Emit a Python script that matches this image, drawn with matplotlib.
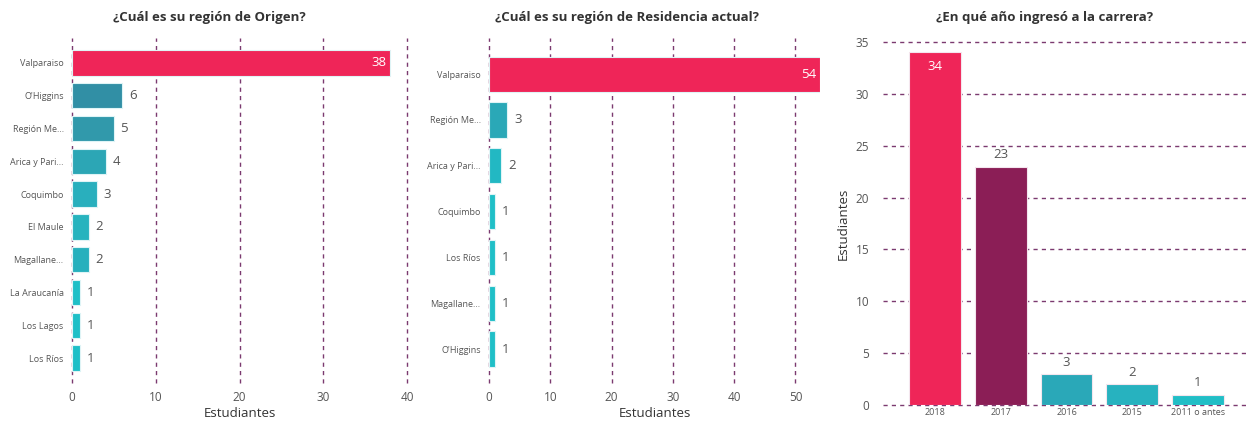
import matplotlib
matplotlib.use("Agg")
import matplotlib.pyplot as plt

plt.rcParams['font.family'] = ['Open Sans', 'DejaVu Sans']

# --- data ---
origen_labels = ["Valparaiso", "O'Higgins", "Región Me...", "Arica y Pari...", "Coquimbo",
                 "El Maule", "Magallane...", "La Araucanía", "Los Lagos", "Los Ríos"]
origen_values = [38, 6, 5, 4, 3, 2, 2, 1, 1, 1]
origen_colors = ["#EF2558", "#318FA5", "#3199AB", "#2CA6B5", "#29AFBD",
                 "#27B3BE", "#27B0BD", "#1FBFC7", "#1FBFC7", "#1FBFC7"]

resid_labels = ["Valparaiso", "Región Me...", "Arica y Pari...", "Coquimbo",
                "Los Ríos", "Magallane...", "O'Higgins"]
resid_values = [54, 3, 2, 1, 1, 1, 1]
resid_colors = ["#EF2558", "#2AA8B7", "#22B8C3", "#1FBFC7", "#1FBFC7", "#1FBFC7", "#1FBFC7"]

anio_labels = ["2018", "2017", "2016", "2015", "2011 o antes"]
anio_values = [34, 23, 3, 2, 1]
anio_colors = ["#EF2558", "#8B1E56", "#2AA8B8", "#27B2BF", "#21BEC6"]

GRID = "#7B3A70"
TXT = "#555555"

fig = plt.figure(figsize=(12.5, 4.21), dpi=100)


def hbar_panel(ax, labels, values, colors, xmax, ticks, top_pad, bot_pad):
    n = len(values)
    y = list(range(n))
    ax.barh(y, values, height=0.77, color=colors, edgecolor="#dff4f6", linewidth=0.8, zorder=3)
    ax.set_ylim(n - 1 + bot_pad, -top_pad)
    ax.set_xlim(0, xmax)
    ax.set_xticks(ticks)
    ax.set_yticks(y)
    ax.set_yticklabels(labels, fontsize=6.5, color=TXT)
    ax.tick_params(axis="x", labelsize=8.5, colors=TXT, length=0, pad=6)
    ax.tick_params(axis="y", length=0, pad=6)
    for s in ax.spines.values():
        s.set_visible(False)
    for t in ticks:
        ax.axvline(t, color=GRID, lw=1, ls=(0, (3, 3)), zorder=1, clip_on=False)
    for i, v in enumerate(values):
        if v == max(values):
            ax.text(v - xmax * 0.012, i, str(v), color="white", fontsize=9.5,
                    ha="right", va="center", zorder=4)
        else:
            ax.text(v + xmax * 0.02, i, str(v), color=TXT, fontsize=9.5,
                    ha="left", va="center", zorder=4)
    ax.set_xlabel("Estudiantes", fontsize=9.5, color="#333333", labelpad=2)


ax1 = fig.add_axes([0.0576, 0.0903, 0.268, 0.8195])
hbar_panel(ax1, origen_labels, origen_values, origen_colors, 40, [0, 10, 20, 30, 40], 0.76, 0.76)

ax2 = fig.add_axes([0.3912, 0.0903, 0.2648, 0.8195])
hbar_panel(ax2, resid_labels, resid_values, resid_colors, 54, [0, 10, 20, 30, 40, 50], 0.79, 0.74)

ax3 = fig.add_axes([0.7064, 0.038, 0.2936, 0.862])
x = list(range(len(anio_values)))
ax3.bar(x, anio_values, width=0.79, color=anio_colors, edgecolor="#f4e6ee", linewidth=0.8, zorder=3)
ax3.set_xlim(-0.79, len(anio_values) - 1 + 0.79)
ax3.set_ylim(0, 35)
ax3.set_yticks([0, 5, 10, 15, 20, 25, 30, 35])
ax3.set_xticks(x)
ax3.set_xticklabels(anio_labels, fontsize=6.5, color=TXT)
ax3.tick_params(axis="y", labelsize=8.5, colors=TXT, length=0, pad=10)
ax3.tick_params(axis="x", length=0, pad=2)
for s in ax3.spines.values():
    s.set_visible(False)
for t in [0, 5, 10, 15, 20, 25, 30, 35]:
    ax3.axhline(t, color=GRID, lw=1, ls=(0, (3, 3)), zorder=1, clip_on=False)
for i, v in enumerate(anio_values):
    if v == max(anio_values):
        ax3.text(i, v - 0.7, str(v), color="white", fontsize=9.5, ha="center", va="top", zorder=4)
    else:
        ax3.text(i, v + 0.5, str(v), color=TXT, fontsize=9.5, ha="center", va="bottom", zorder=4)
ax3.set_ylabel("Estudiantes", fontsize=9.5, color="#333333", labelpad=4)

# titles
fig.text(209 / 1250, 1 - 18 / 421, "¿Cuál es su región de Origen?", ha="center", va="center",
         fontsize=9.5, fontweight="bold", color="#333333")
fig.text(627 / 1250, 1 - 18 / 421, "¿Cuál es su región de Residencia actual?", ha="center", va="center",
         fontsize=9.5, fontweight="bold", color="#333333")
fig.text(1045 / 1250, 1 - 18 / 421, "¿En qué año ingresó a la carrera?", ha="center", va="center",
         fontsize=9.5, fontweight="bold", color="#333333")

fig.savefig("out.png", dpi=100)
